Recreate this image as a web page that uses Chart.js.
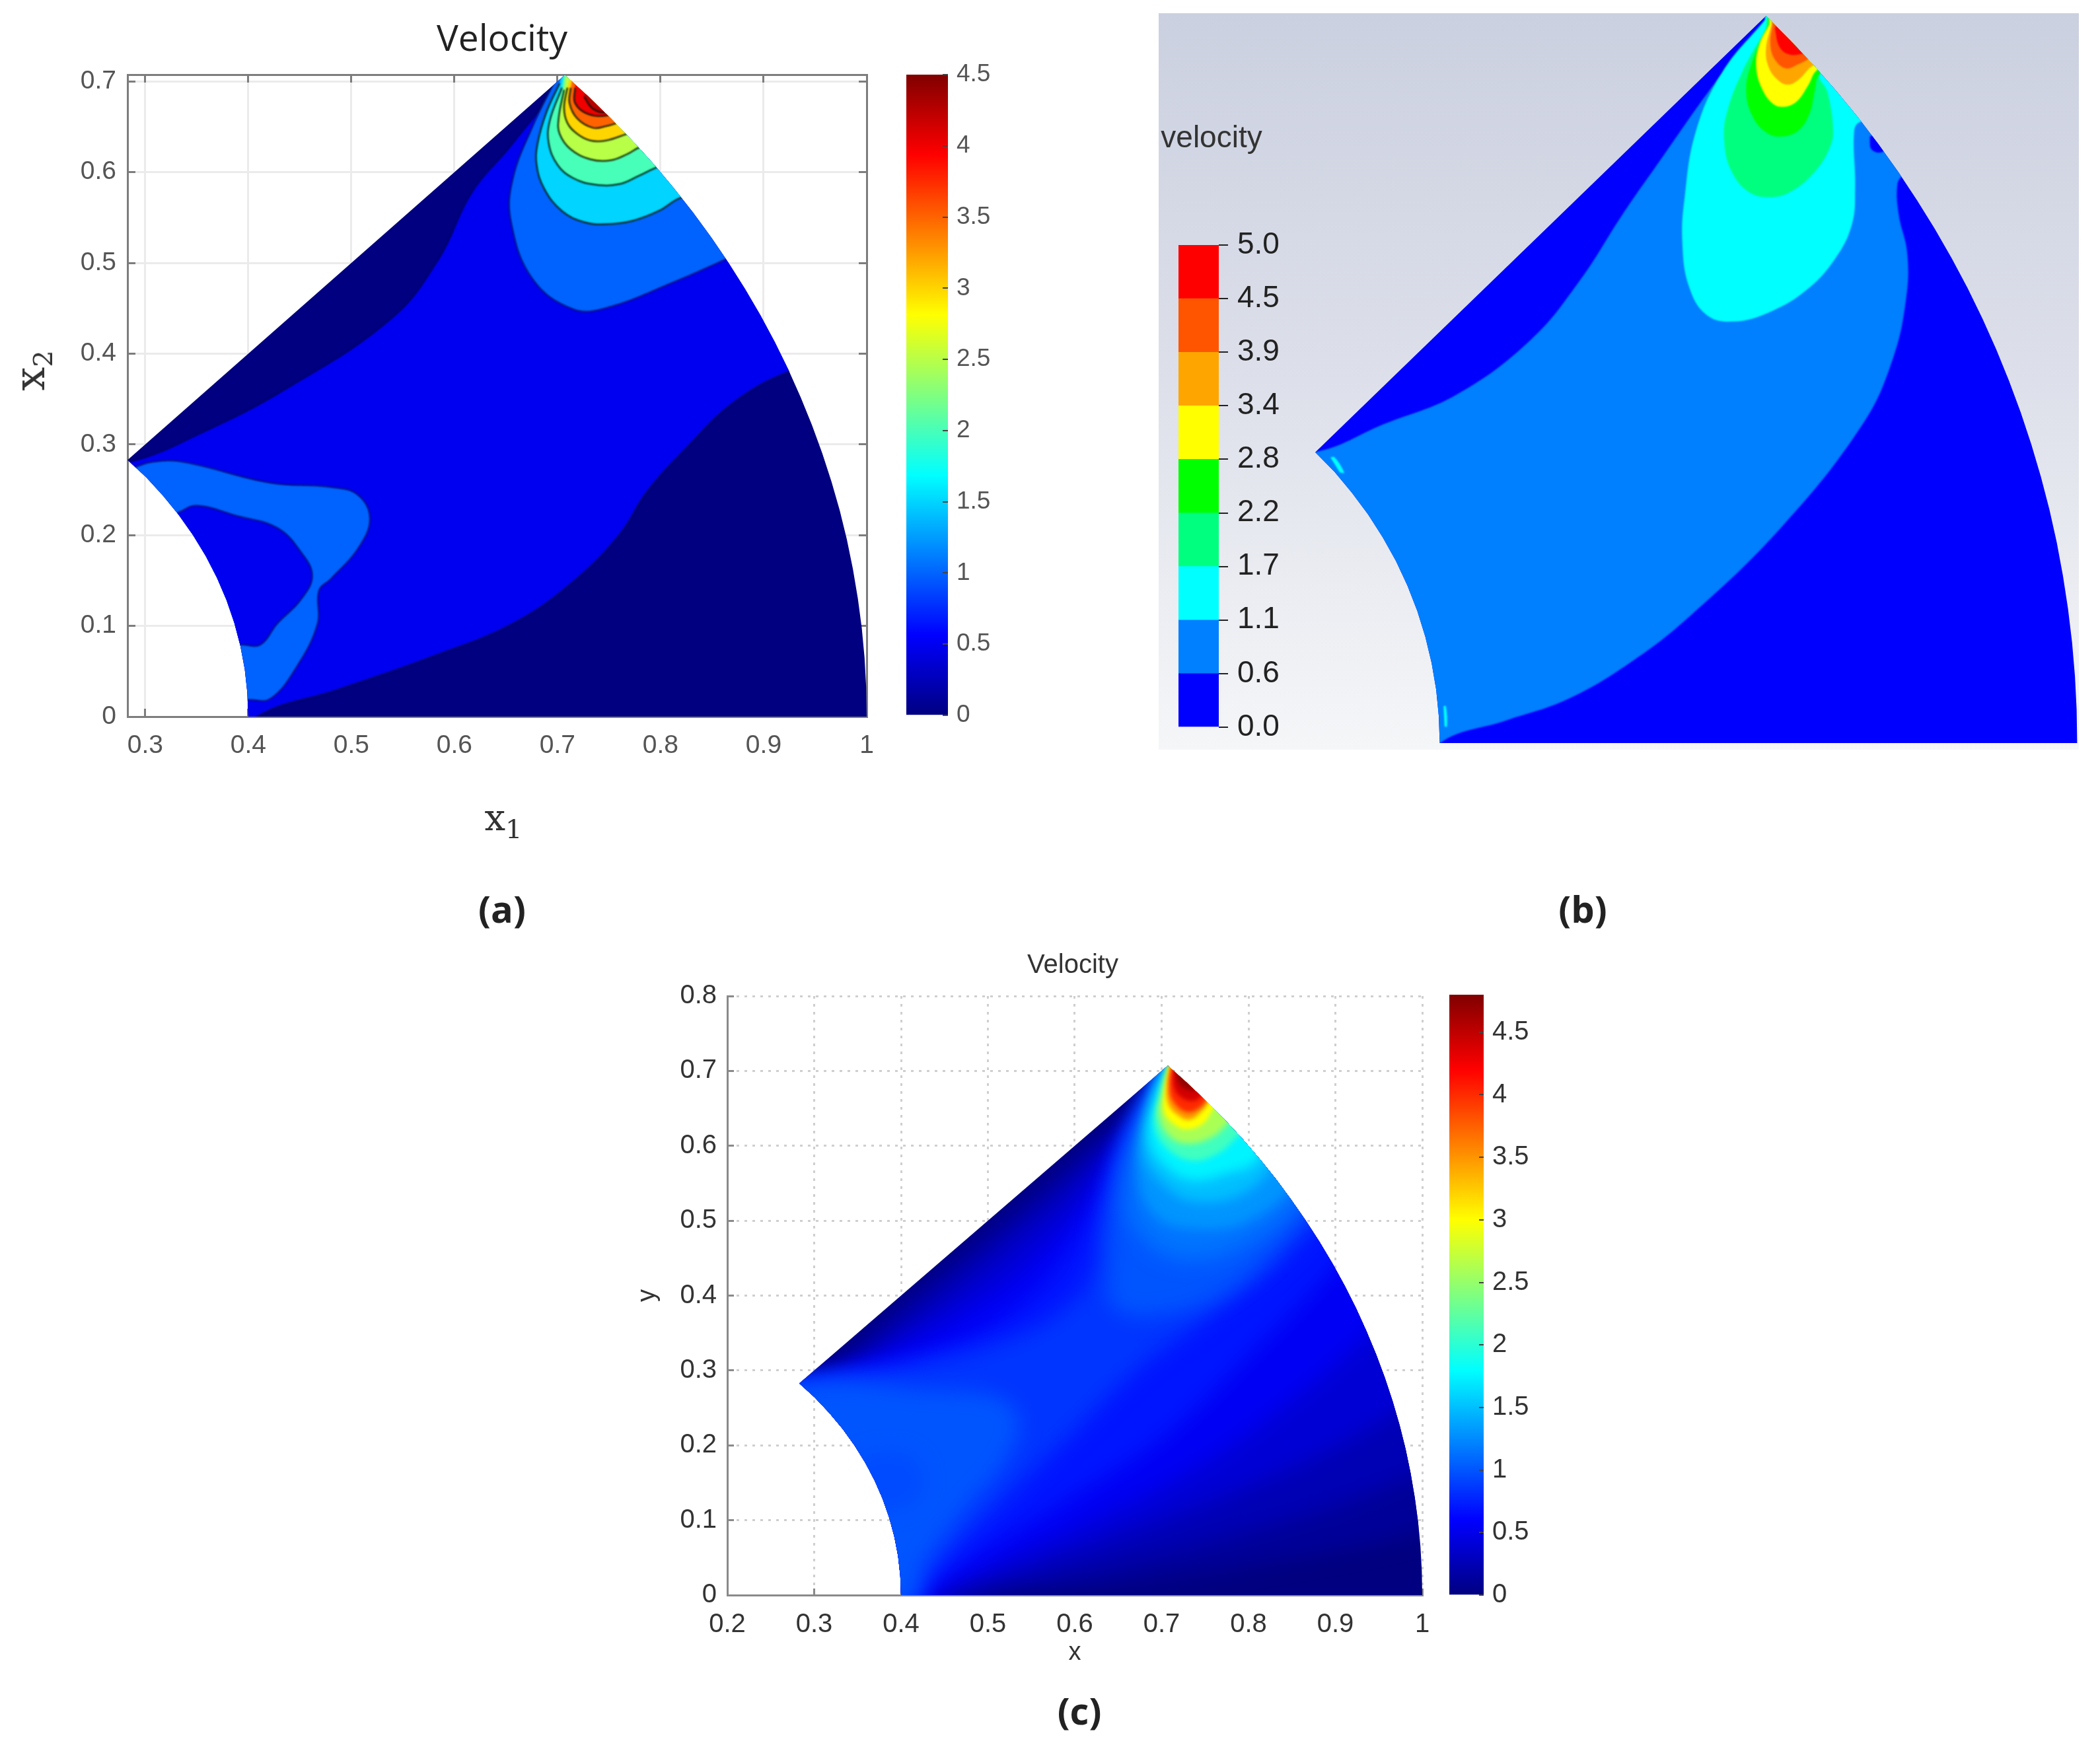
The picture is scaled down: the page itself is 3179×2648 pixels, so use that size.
<!DOCTYPE html>
<html><head><meta charset="utf-8">
<script src="https://cdn.jsdelivr.net/npm/chart.js@4/dist/chart.umd.min.js"></script>
<style>
html,body{margin:0;padding:0;background:#fff;width:3179px;height:2648px;overflow:hidden}
body{filter:blur(0.7px)}
canvas{position:absolute}
.t{position:absolute;transform:translate(-50%,-50%);white-space:nowrap;line-height:1}
.panel{font:700 56px "Open Sans",sans-serif;color:#222}
.sym{font:56px "DejaVu Serif",serif;color:#333}
.sym sub{font-size:40px;vertical-align:-12px;line-height:0}
</style></head><body>
<canvas id="plotA" width="1520" height="1265" style="left:0;top:0"></canvas>
<canvas id="barA" width="200" height="1030" style="left:1330px;top:90px"></canvas>
<canvas id="plotB" width="1393" height="1115" style="left:1754px;top:20px"></canvas>
<canvas id="barB" width="230" height="800" style="left:1740px;top:340px"></canvas>
<canvas id="plotC" width="1348" height="1102" style="left:950px;top:1420px"></canvas>
<canvas id="barC" width="200" height="970" style="left:2150px;top:1480px"></canvas>
<div class="t sym" style="left:762px;top:1237px">x<sub>1</sub></div>
<div class="t sym" style="left:45px;top:561px;font-size:64px;transform:translate(-50%,-50%) rotate(-90deg)">x<sub>2</sub></div>
<div class="t" style="left:1834px;top:207px;font:46px 'Liberation Sans',sans-serif;color:#333">velocity</div>
<div class="t panel" style="left:760px;top:1375px">(a)</div>
<div class="t panel" style="left:2396px;top:1375px">(b)</div>
<div class="t panel" style="left:1634px;top:2589px">(c)</div>
<script>
/* ---------- tick labels ---------- */
const aXTicks=[0.3,0.4,0.5,0.6,0.7,0.8,0.9,1];
const aYTicks=[0,0.1,0.2,0.3,0.4,0.5,0.6,0.7];
const aBarTicks=[0,0.5,1,1.5,2,2.5,3,3.5,4,4.5];
const cXTicks=[0.2,0.3,0.4,0.5,0.6,0.7,0.8,0.9,1];
const cYTicks=[0,0.1,0.2,0.3,0.4,0.5,0.6,0.7,0.8];
const cBarTicks=[0,0.5,1,1.5,2,2.5,3,3.5,4,4.5];
const bBarLabels=['0.0','0.6','1.1','1.7','2.2','2.8','3.4','3.9','4.5','5.0'];
const bBarColors=['#0000ff','#007fff','#00ffff','#00ff7f','#00ff00','#ffff00','#ffa500','#ff5500','#ff0000'];

/* ---------- flow domain outline (x, y) ---------- */
const outerArc=[[1,0],[0.9995,0.0327],[0.9979,0.0654],[0.9952,0.098],[0.9914,0.1305],[0.9866,0.1629],[0.9808,0.1951],[0.9739,0.2271],[0.9659,0.2588],[0.9569,0.2903],[0.9469,0.3214],[0.9359,0.3522],[0.9239,0.3827],[0.9109,0.4127],[0.8969,0.4423],[0.8819,0.4714],[0.866,0.5],[0.8492,0.528],[0.8315,0.5556],[0.8128,0.5825],[0.7934,0.6088],[0.773,0.6344],[0.7518,0.6593],[0.7299,0.6834],[0.7071,0.7071]];
const innerArc=[[0.2828,0.2828],[0.3009,0.2638],[0.3173,0.2435],[0.3326,0.2222],[0.3464,0.2],[0.3588,0.1769],[0.3696,0.1531],[0.3788,0.1286],[0.3864,0.1035],[0.3923,0.078],[0.3966,0.0522],[0.3991,0.0262],[0.4,0]];
const wholeField=[[0.1,-0.1],[1.2,-0.1],[1.2,0.9],[0.1,0.9]];

/* ---------- panel (a): band regions, each is where velocity exceeds its level ---------- */
const aBand05=[[0.2,-0.02],[0.4,-0.03],[0.4085,0],[0.4867,0.0297],[0.578,0.066],[0.6563,0.1024],[0.715,0.1486],[0.7607,0.2015],[0.7867,0.2477],[0.8259,0.2972],[0.8715,0.3468],[0.9237,0.3798],[1.1,0.45],[0.9,0.8],[0.71,0.75],[0.702,0.703],[0.656,0.631],[0.617,0.578],[0.585,0.505],[0.539,0.439],[0.4346,0.36],[0.3563,0.3137],[0.2846,0.2807],[0.2,0.27]];
const aBand10Top=[[0.6987,0.7034],[0.6759,0.6506],[0.6563,0.5911],[0.655,0.5449],[0.6759,0.4822],[0.715,0.4491],[0.7476,0.4505],[0.8128,0.4789],[0.8617,0.5033],[0.95,0.55],[0.8,0.75],[0.71,0.75]];
const aBand10Left=[[0.2878,0.2741],[0.3074,0.2807],[0.3367,0.2807],[0.4215,0.2576],[0.4802,0.253],[0.5063,0.2444],[0.518,0.218],[0.5063,0.185],[0.4802,0.1519],[0.4685,0.1387],[0.4672,0.1024],[0.4476,0.0561],[0.4215,0.0198],[0.4007,0.0185],[0.3,0.01],[0.2,0.1],[0.2,0.27]];
const aHole05=[[0.3315,0.2246],[0.3498,0.2325],[0.3889,0.2213],[0.428,0.2081],[0.4509,0.1816],[0.462,0.1552],[0.4509,0.1288],[0.428,0.1024],[0.4117,0.0793],[0.3941,0.0793],[0.3,0.08],[0.25,0.2]];
const aBand15=[[0.7021,0.698],[0.6893,0.6664],[0.6808,0.6325],[0.6797,0.6082],[0.6872,0.5815],[0.7043,0.5572],[0.7256,0.545],[0.747,0.5426],[0.7726,0.5463],[0.7982,0.5572],[0.8196,0.5718],[0.9,0.6],[0.8,0.75],[0.71,0.74]];
const aBand20=[[0.7043,0.6931],[0.6925,0.6567],[0.6914,0.6324],[0.7,0.6082],[0.715,0.5936],[0.7363,0.5863],[0.7598,0.5868],[0.779,0.596],[0.7971,0.6057],[0.88,0.64],[0.79,0.75],[0.71,0.74]];
const aBand25=[[0.7064,0.6907],[0.7011,0.6592],[0.7021,0.6422],[0.7128,0.6252],[0.732,0.6142],[0.7512,0.613],[0.7683,0.6203],[0.78,0.6276],[0.86,0.66],[0.78,0.75],[0.71,0.74]];
const aBand30=[[0.7096,0.6931],[0.7064,0.6713],[0.7096,0.6543],[0.7192,0.6422],[0.732,0.6349],[0.747,0.6349],[0.7672,0.6422],[0.84,0.67],[0.77,0.75],[0.72,0.74]];
const aBand35=[[0.7128,0.6931],[0.7117,0.6761],[0.7192,0.6592],[0.7342,0.649],[0.747,0.6507],[0.7576,0.6543],[0.82,0.68],[0.76,0.75],[0.72,0.74]];
const aBand40=[[0.7171,0.6931],[0.7171,0.6761],[0.7299,0.664],[0.7491,0.6628],[0.81,0.68],[0.75,0.75],[0.72,0.74]];
const aBand42=[[0.7257,0.6834],[0.7342,0.6701],[0.747,0.6664],[0.8,0.69],[0.74,0.74]];
const aLevels=[0,0.5,1,1,0.5,1.5,2,2.5,3,3.5,4,4.25];
const aShapes=[wholeField,aBand05,aBand10Top,aBand10Left,aHole05,aBand15,aBand20,aBand25,aBand30,aBand35,aBand40,aBand42];

/* ---------- panel (b): band regions, index into bBarColors ---------- */
const bBand1=[[0.2,-0.02],[0.39,-0.03],[0.4,0],[0.4624,0.022],[0.52,0.0425],[0.578,0.0774],[0.636,0.124],[0.7225,0.211],[0.798,0.31],[0.8266,0.374],[0.839,0.4325],[0.84,0.4766],[0.832,0.514],[0.8307,0.5427],[0.836,0.552],[0.9,0.6],[0.76,0.8],[0.71,0.8],[0.708,0.706],[0.659,0.642],[0.607,0.566],[0.572,0.514],[0.532,0.45],[0.4855,0.392],[0.416,0.339],[0.347,0.31],[0.283,0.283],[0.2,0.28]];
const bNotch=[[0.8046,0.5896],[0.8066,0.577],[0.817,0.575],[0.85,0.6],[0.82,0.62],[0.809,0.592]];
const bBand2=[[0.7061,0.7032],[0.6656,0.6518],[0.6408,0.594],[0.6304,0.5298],[0.6283,0.487],[0.6345,0.4442],[0.6511,0.4164],[0.676,0.4099],[0.7092,0.4185],[0.7444,0.4399],[0.7714,0.4699],[0.7879,0.5041],[0.791,0.5405],[0.79,0.5941],[0.7952,0.6037],[0.85,0.62],[0.75,0.78],[0.71,0.78]];
const bBand3=[[0.7071,0.6947],[0.6843,0.6518],[0.6698,0.6112],[0.6677,0.5855],[0.6739,0.5577],[0.6905,0.5362],[0.7133,0.5309],[0.734,0.5384],[0.7548,0.5577],[0.7672,0.5791],[0.7703,0.5962],[0.7651,0.6326],[0.7579,0.6508],[0.8,0.68],[0.75,0.75],[0.71,0.75]];
const bBand4=[[0.7092,0.699],[0.6926,0.6583],[0.6884,0.6326],[0.6946,0.609],[0.707,0.594],[0.7216,0.5898],[0.7382,0.5962],[0.7485,0.6133],[0.7527,0.6326],[0.7579,0.6508],[0.8,0.68],[0.75,0.75],[0.71,0.75]];
const bBand5=[[0.7102,0.699],[0.7009,0.6797],[0.6978,0.6583],[0.703,0.6369],[0.7133,0.6219],[0.7237,0.6187],[0.7361,0.624],[0.7465,0.639],[0.7558,0.655],[0.8,0.68],[0.75,0.75],[0.71,0.75]];
const bBand6=[[0.7123,0.699],[0.7071,0.6754],[0.7092,0.6583],[0.7175,0.6454],[0.7278,0.6401],[0.7382,0.6454],[0.7506,0.6583],[0.79,0.68],[0.75,0.75],[0.715,0.75]];
const bBand7=[[0.7133,0.699],[0.7112,0.6797],[0.7154,0.6647],[0.7258,0.6561],[0.7382,0.6604],[0.7465,0.6647],[0.79,0.69],[0.75,0.75],[0.715,0.75]];
const bBand8=[[0.7154,0.6947],[0.7195,0.6775],[0.7278,0.67],[0.7402,0.67],[0.78,0.68],[0.73,0.74]];
const bSliverTip=[[0.297,0.278],[0.301,0.278],[0.31,0.263],[0.306,0.263]];
const bSliverFoot=[[0.4035,0.036],[0.4058,0.036],[0.4068,0.016],[0.4045,0.016]];
const bLevels=[0,1,0,2,3,4,5,6,7,8,2,2];
const bShapes=[wholeField,bBand1,bNotch,bBand2,bBand3,bBand4,bBand5,bBand6,bBand7,bBand8,bSliverTip,bSliverFoot];

/* ---------- panel (c): iso-velocity regions, each is where velocity exceeds its level ---------- */
const cRegion012=[[0.2,-0.02],[0.5,-0.02],[0.5,0],[0.65,0.015],[0.8,0.04],[0.95,0.07],[1.02,0.09],[1.15,0.1],[1.15,0.85],[0.72,0.85],[0.7,0.69],[0.6,0.585],[0.5,0.487],[0.4,0.388],[0.31,0.298],[0.27,0.285],[0.2,0.27]];
const cRegion025=[[0.2,-0.02],[0.47,-0.02],[0.47,0],[0.6,0.03],[0.75,0.07],[0.9,0.12],[1.02,0.17],[1.15,0.2],[1.15,0.85],[0.72,0.85],[0.705,0.69],[0.6,0.565],[0.5,0.465],[0.4,0.37],[0.32,0.295],[0.27,0.28],[0.2,0.27]];
const cRegion040=[[0.2,-0.02],[0.445,-0.02],[0.445,0],[0.55,0.04],[0.7,0.1],[0.85,0.17],[0.95,0.23],[1.02,0.28],[1.15,0.34],[1.15,0.85],[0.72,0.85],[0.71,0.72],[0.62,0.57],[0.52,0.46],[0.42,0.365],[0.34,0.3],[0.27,0.275],[0.2,0.27]];
const cRegion055=[[0.2,-0.02],[0.43,-0.02],[0.43,0],[0.5,0.04],[0.62,0.1],[0.74,0.17],[0.86,0.27],[0.96,0.37],[1.02,0.43],[1.15,0.55],[1.15,0.85],[0.72,0.85],[0.71,0.72],[0.645,0.58],[0.57,0.47],[0.48,0.385],[0.38,0.32],[0.3,0.285],[0.27,0.28],[0.2,0.27]];
const cRegion070=[[0.2,-0.02],[0.42,-0.02],[0.42,0],[0.48,0.05],[0.58,0.12],[0.7,0.21],[0.8,0.32],[0.9,0.44],[0.97,0.54],[1,0.6],[1.1,0.75],[0.72,0.85],[0.71,0.72],[0.65,0.58],[0.6,0.47],[0.54,0.39],[0.45,0.33],[0.35,0.295],[0.27,0.28],[0.2,0.27]];
const cRegion085=[[0.2,-0.02],[0.415,-0.02],[0.415,0],[0.46,0.06],[0.53,0.14],[0.6,0.22],[0.67,0.3],[0.74,0.36],[0.84,0.45],[0.92,0.55],[0.98,0.65],[1.05,0.8],[0.72,0.85],[0.71,0.72],[0.655,0.6],[0.63,0.5],[0.62,0.43],[0.59,0.385],[0.53,0.345],[0.42,0.31],[0.3,0.29],[0.27,0.285],[0.2,0.27]];
const cRegion100Top=[[0.71,0.72],[0.665,0.62],[0.645,0.53],[0.64,0.45],[0.645,0.385],[0.7,0.375],[0.78,0.41],[0.86,0.5],[0.93,0.6],[0.98,0.7],[0.8,0.85]];
const cRegion100Left=[[0.27,0.28],[0.33,0.285],[0.42,0.275],[0.51,0.265],[0.535,0.235],[0.52,0.18],[0.47,0.11],[0.425,0.04],[0.41,-0.01],[0.2,-0.01],[0.2,0.27]];
const cPatch095=[[0.375,0.19],[0.41,0.185],[0.425,0.155],[0.415,0.125],[0.38,0.115],[0.34,0.13],[0.33,0.17]];
const cRegion115=[[0.71,0.72],[0.675,0.62],[0.66,0.54],[0.67,0.49],[0.72,0.45],[0.8,0.47],[0.88,0.55],[0.95,0.66],[0.8,0.85]];
const cRegion130=[[0.7,0.7],[0.68,0.64],[0.672,0.57],[0.69,0.51],[0.73,0.49],[0.8,0.5],[0.86,0.56],[0.9,0.66],[0.8,0.8]];
const cRegion150=[[0.705,0.7],[0.688,0.65],[0.68,0.59],[0.7,0.55],[0.74,0.525],[0.8,0.54],[0.835,0.59],[0.86,0.68],[0.8,0.78]];
const cRegion175=[[0.705,0.7],[0.693,0.666],[0.686,0.61],[0.705,0.572],[0.737,0.554],[0.78,0.565],[0.808,0.578],[0.83,0.64],[0.8,0.75]];
const cRegion210=[[0.708,0.71],[0.698,0.67],[0.692,0.628],[0.708,0.595],[0.737,0.58],[0.765,0.59],[0.7825,0.607],[0.82,0.66],[0.76,0.74]];
const cRegion260=[[0.708,0.71],[0.7,0.67],[0.697,0.64],[0.71,0.612],[0.73,0.603],[0.755,0.61],[0.772,0.625],[0.8,0.67],[0.74,0.74]];
const cRegion300=[[0.71,0.71],[0.703,0.67],[0.703,0.645],[0.715,0.628],[0.729,0.622],[0.748,0.63],[0.76,0.651],[0.78,0.68],[0.73,0.74]];
const cRegion350=[[0.71,0.71],[0.706,0.68],[0.708,0.655],[0.72,0.64],[0.732,0.635],[0.745,0.645],[0.755,0.66],[0.77,0.69],[0.73,0.74]];
const cRegion400=[[0.712,0.71],[0.709,0.68],[0.713,0.66],[0.729,0.645],[0.745,0.652],[0.752,0.663],[0.77,0.69],[0.73,0.74]];
const cRegion440=[[0.714,0.705],[0.714,0.68],[0.722,0.665],[0.737,0.66],[0.748,0.67],[0.76,0.69],[0.73,0.73]];
const cRegion470=[[0.716,0.7],[0.72,0.683],[0.73,0.675],[0.74,0.675],[0.75,0.69],[0.72,0.72]];
const cLevels=[0,0.12,0.25,0.4,0.55,0.7,0.85,1,1,0.95,1.15,1.3,1.5,1.75,2.1,2.6,3,3.5,4,4.4,4.7];
const cShapes=[wholeField,cRegion012,cRegion025,cRegion040,cRegion055,cRegion070,cRegion085,cRegion100Top,cRegion100Left,cPatch095,cRegion115,cRegion130,cRegion150,cRegion175,cRegion210,cRegion260,cRegion300,cRegion350,cRegion400,cRegion440,cRegion470];

/* ---------- helpers ---------- */
const SANS='"Liberation Sans",Arial,sans-serif';
const clamp=v=>Math.max(0,Math.min(1,v));
function jet(t){
  const r=clamp(Math.min(4*t-1.5,-4*t+4.5)),g=clamp(Math.min(4*t-0.5,-4*t+3.5)),b=clamp(Math.min(4*t+0.5,-4*t+2.5));
  return `rgb(${Math.round(r*255)},${Math.round(g*255)},${Math.round(b*255)})`;
}
const jetStops=[0,0.125,0.375,0.625,0.875,1];
const fieldClip={id:'fieldClip',
  beforeDatasetsDraw(c){
    const {ctx,scales:{x,y}}=c;ctx.save();ctx.beginPath();
    outerArc.concat(innerArc).forEach(([a,b],i)=>{const X=x.getPixelForValue(a),Y=y.getPixelForValue(b);i?ctx.lineTo(X,Y):ctx.moveTo(X,Y);});
    ctx.closePath();ctx.clip();setBlur(c,0);
  },
  afterDatasetDraw(c,args){setBlur(c,args.index+1);},
  afterDatasetsDraw(c){c.ctx.restore();}
};
function setBlur(c,i){const d=c.data.datasets[i];c.ctx.filter=d&&d.blurPx?`blur(${d.blurPx}px)`:'none';}
const shadeB={id:'shadeB',beforeDraw(c){
  const a=c.chartArea,g=c.ctx.createLinearGradient(0,a.top,0,a.bottom);
  g.addColorStop(0,'#cbd0e0');g.addColorStop(0.5,'#dde0ea');g.addColorStop(1,'#f5f6f8');
  c.ctx.fillStyle=g;c.ctx.fillRect(a.left,a.top,a.right-a.left,a.bottom-a.top);
}};
function datasets(shapes,colorOf,extra){
  return shapes.map((s,i)=>Object.assign({data:s.map(p=>({x:p[0],y:p[1]})),fill:'shape',backgroundColor:colorOf(i),
    borderWidth:0,pointRadius:0,tension:0.4,capBezierPoints:false,order:-i,blurPx:1},extra?extra(i):{}));
}
function base(){return {responsive:false,animation:false,events:[],plugins:{legend:{display:false},tooltip:{enabled:false},title:{display:false}}};}
const setTicks=list=>s=>{s.ticks=list.map(v=>({value:v}));};
const fixW=w=>s=>{s.width=w;s.paddingTop=0;s.paddingBottom=0;};
const fixH=h=>s=>{s.height=h;s.paddingLeft=0;s.paddingRight=0;};
const label=v=>String(v);

/* ---------- panel (a) ---------- */
{
  const opt=base(),gray='#7d7d7d',tf={family:SANS,size:39};
  opt.plugins.title={display:true,text:'Velocity',color:'#222',font:{family:'"Open Sans"',size:55,lineHeight:1,weight:'400'},padding:{top:34,bottom:24}};
  const side={min:0.2828,max:1,type:'linear'};
  opt.scales={
    x:{...side,position:'bottom',afterFit:fixH(180),afterBuildTicks:setTicks(aXTicks),
       grid:{color:'#ebebeb',lineWidth:3,tickLength:-12,tickColor:gray},border:{color:gray,width:3},
       ticks:{callback:label,color:'#555',font:tf,padding:33,autoSkip:false,maxRotation:0}},
    y:{type:'linear',min:0,max:0.7075,position:'left',afterFit:fixW(193),afterBuildTicks:setTicks(aYTicks),
       grid:{color:'#ebebeb',lineWidth:3,tickLength:-12,tickColor:gray},border:{color:gray,width:3},
       ticks:{callback:label,color:'#555',font:tf,padding:29,autoSkip:false}},
    x2:{...side,position:'top',afterFit:fixH(0),afterBuildTicks:setTicks(aXTicks),
       grid:{drawOnChartArea:false,tickLength:-12,tickColor:gray,lineWidth:3},border:{color:gray,width:3},ticks:{display:false}},
    y2:{type:'linear',min:0,max:0.7075,position:'right',afterFit:fixW(208),afterBuildTicks:setTicks(aYTicks),
       grid:{drawOnChartArea:false,tickLength:-12,tickColor:gray,lineWidth:3},border:{color:gray,width:3},ticks:{display:false}}
  };
  new Chart(document.getElementById('plotA'),{type:'line',
    data:{datasets:datasets(aShapes,i=>jet(aLevels[i]/4.5),i=>i?{borderWidth:2.5,borderColor:aLevels[i]>1?'rgba(0,20,0,0.85)':'rgba(0,0,60,0.55)'}:{})},
    options:opt,plugins:[fieldClip]});
}
/* ---------- panel (b) ---------- */
{
  const opt=base();
  opt.scales={x:{type:'linear',min:0.1354,max:1.0016,display:false},y:{type:'linear',min:-0.0064,max:0.7097,display:false}};
  new Chart(document.getElementById('plotB'),{type:'line',
    data:{datasets:datasets(bShapes,i=>bBarColors[bLevels[i]])},options:opt,plugins:[shadeB,fieldClip]});
  const o2=base();
  o2.layout={padding:{left:44,top:31,bottom:39}};
  o2.scales={x:{stacked:true,display:false},
    y:{stacked:true,type:'linear',min:0,max:bBarColors.length,position:'right',afterFit:fixW(125),
       afterBuildTicks:setTicks(bBarLabels.map((_,i)=>i)),
       grid:{drawOnChartArea:false,tickLength:14,tickColor:'#222',lineWidth:2},border:{display:false},
       ticks:{callback:v=>bBarLabels[v],color:'#222',font:{family:SANS,size:46},padding:14,autoSkip:false}}};
  new Chart(document.getElementById('barB'),{type:'bar',
    data:{labels:['velocity'],datasets:bBarColors.map(c=>({data:[1],backgroundColor:c,barPercentage:1,categoryPercentage:1}))},options:o2});
}
/* ---------- panel (c) ---------- */
{
  const opt=base(),gray='#8a8a8a',dot='#cfcfcf',tf={family:SANS,size:40};
  opt.plugins.title={display:true,text:'Velocity',color:'#333',font:{family:SANS,size:40,lineHeight:1,weight:'400'},padding:{top:22,bottom:26}};
  opt.scales={
    x:{type:'linear',min:0.2,max:1,position:'bottom',afterFit:fixH(107),afterBuildTicks:setTicks(cXTicks),
       grid:{color:dot,lineWidth:3,tickLength:-10,tickColor:gray},border:{color:gray,width:3,dash:[4,8]},
       title:{display:true,text:'x',color:'#333',font:{family:SANS,size:38,lineHeight:1},padding:{top:0,bottom:0}},
       ticks:{callback:label,color:'#333',font:tf,padding:31,autoSkip:false,maxRotation:0}},
    y:{type:'linear',min:0,max:0.8,position:'left',afterFit:fixW(151),afterBuildTicks:setTicks(cYTicks),
       grid:{color:dot,lineWidth:3,tickLength:-10,tickColor:gray},border:{color:gray,width:3,dash:[4,8]},
       title:{display:true,text:'y',color:'#333',font:{family:SANS,size:38,lineHeight:1},padding:{top:12,bottom:0}},
       ticks:{callback:label,color:'#333',font:tf,padding:26,autoSkip:false}},
    y2:{type:'linear',min:0,max:0.8,position:'right',afterFit:fixW(145),
       grid:{display:false},border:{display:false},ticks:{display:false}}
  };
  new Chart(document.getElementById('plotC'),{type:'line',
    data:{datasets:datasets(cShapes,i=>jet(cLevels[i]/4.8),i=>({blurPx:cLevels[i]<1.2?16:cLevels[i]<2?9:cLevels[i]<3?5:3}))},
    options:opt,plugins:[fieldClip]});
}
/* ---------- gradient colour bars for (a) and (c) ---------- */
function gradientBar(id,max,ticks,pad,axisW,color,size,tickLen){
  const o=base();
  o.layout={padding:pad};
  o.scales={x:{display:false},
    y:{type:'linear',min:0,max:max,position:'right',afterFit:fixW(axisW),afterBuildTicks:setTicks(ticks),
       grid:{drawOnChartArea:false,tickLength:tickLen,tickColor:'#444',lineWidth:2,z:1},border:{display:false},
       ticks:{callback:label,color:color,font:{family:SANS,size:size},padding:13-tickLen,autoSkip:false}}};
  new Chart(document.getElementById(id),{type:'bar',
    data:{labels:['velocity'],datasets:[{data:[[0,max]],barPercentage:1,categoryPercentage:1,
      backgroundColor:ctx=>{const a=ctx.chart.chartArea;if(!a)return '#000';
        const g=ctx.chart.ctx.createLinearGradient(0,a.bottom,0,a.top);jetStops.forEach(t=>g.addColorStop(t,jet(t)));return g;}}]},options:o});
}
gradientBar('barA',4.5,aBarTicks,{left:42,top:23,bottom:37},95,'#555',37,-8);
gradientBar('barC',4.8,cBarTicks,{left:44,top:26,bottom:35},104,'#333',40,-7);
</script>
</body></html>
